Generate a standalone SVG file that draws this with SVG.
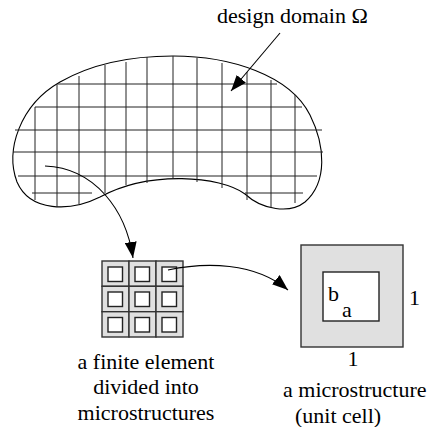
<svg xmlns="http://www.w3.org/2000/svg" width="432" height="427" viewBox="0 0 432 427">
<defs>
<style>
text{font-family:'Liberation Serif',serif;font-size:22px;fill:#000}
.grid line{stroke:#222;stroke-width:1}
.conn{fill:none;stroke:#000;stroke-width:1.1}
.cell{fill:#e0e0e0;stroke:#333;stroke-width:1.4}
.hole{fill:#fff;stroke:#222;stroke-width:1.4}
</style>
<marker id="ah" markerUnits="userSpaceOnUse" markerWidth="18" markerHeight="12" refX="16" refY="6" orient="auto">
<path d="M0,0 L16,6 L0,12 Z" fill="#000"/>
</marker>
</defs>
<rect width="432" height="427" fill="#fff"/>

<g id="domain">
<path d="M173,56 C230,56 290,75 310,115 C325,145 328,182 305,202 C290,214 262,210 245,194 C220,176 150,170 100,197 C70,212 30,212 17,182 C5,150 20,105 60,82 C95,62 135,56 173,56 Z" fill="none" stroke="#000" stroke-width="1.1"/>
<g class="grid">
<line x1="58" y1="84" x2="277" y2="84"/>
<line x1="35" y1="107" x2="302" y2="107"/>
<line x1="15" y1="130" x2="322" y2="130"/>
<line x1="13" y1="152" x2="323" y2="152"/>
<line x1="18" y1="176" x2="317" y2="176"/>
<line x1="32" y1="193" x2="92" y2="193"/>
<line x1="245" y1="193" x2="303" y2="193"/>
<line x1="35" y1="107" x2="35" y2="200"/>
<line x1="57" y1="84" x2="57" y2="207"/>
<line x1="79" y1="76" x2="79" y2="204"/>
<line x1="105" y1="65" x2="105" y2="193"/>
<line x1="126" y1="62" x2="126" y2="185"/>
<line x1="147" y1="57" x2="147" y2="183"/>
<line x1="173" y1="56" x2="173" y2="178"/>
<line x1="197" y1="58" x2="197" y2="182"/>
<line x1="222" y1="63" x2="222" y2="188"/>
<line x1="247" y1="72" x2="247" y2="200"/>
<line x1="271" y1="80" x2="271" y2="208"/>
<line x1="295" y1="95" x2="295" y2="203"/>
</g>
<text x="217" y="23" font-family="Liberation Serif, serif">design domain Ω</text>
</g>

<g id="finite-element" font-family="Liberation Serif, serif">
<rect class="cell" x="102" y="261" width="27" height="25.3"/>
<rect class="cell" x="129" y="261" width="27" height="25.3"/>
<rect class="cell" x="156" y="261" width="27" height="25.3"/>
<rect class="cell" x="102" y="286.3" width="27" height="25.4"/>
<rect class="cell" x="129" y="286.3" width="27" height="25.4"/>
<rect class="cell" x="156" y="286.3" width="27" height="25.4"/>
<rect class="cell" x="102" y="311.7" width="27" height="25.3"/>
<rect class="cell" x="129" y="311.7" width="27" height="25.3"/>
<rect class="cell" x="156" y="311.7" width="27" height="25.3"/>
<rect class="hole" x="108" y="267" width="14.5" height="14.5"/>
<rect class="hole" x="135" y="267" width="14.5" height="14.5"/>
<rect class="hole" x="162" y="267" width="14.5" height="14.5"/>
<rect class="hole" x="108" y="292" width="14.5" height="14.5"/>
<rect class="hole" x="135" y="292" width="14.5" height="14.5"/>
<rect class="hole" x="162" y="292" width="14.5" height="14.5"/>
<rect class="hole" x="108" y="317.5" width="14.5" height="14.5"/>
<rect class="hole" x="135" y="317.5" width="14.5" height="14.5"/>
<rect class="hole" x="162" y="317.5" width="14.5" height="14.5"/>
<text x="146" y="369" text-anchor="middle">a finite element</text>
<text x="146" y="394" text-anchor="middle">divided into</text>
<text x="146" y="420" text-anchor="middle">microstructures</text>
</g>

<g id="unit-cell" font-family="Liberation Serif, serif">
<rect x="301" y="245" width="102" height="102" fill="#e0e0e0" stroke="#333" stroke-width="1.4"/>
<rect x="323" y="272" width="56" height="49" fill="#fff" stroke="#222" stroke-width="1.4"/>
<text x="328" y="301">b</text>
<text x="342" y="317">a</text>
<text x="409" y="305">1</text>
<text x="353" y="366" text-anchor="middle">1</text>
<text x="283" y="397">a microstructure</text>
<text x="295" y="423">(unit cell)</text>
</g>

<g id="connectors">
<path class="conn" d="M280,33 L231,91" marker-end="url(#ah)"/>
<path class="conn" d="M45,166 C95,168 126,210 133,258" marker-end="url(#ah)"/>
<path class="conn" d="M168,270 C205,262 255,262 288,290" marker-end="url(#ah)"/>
</g>
</svg>
